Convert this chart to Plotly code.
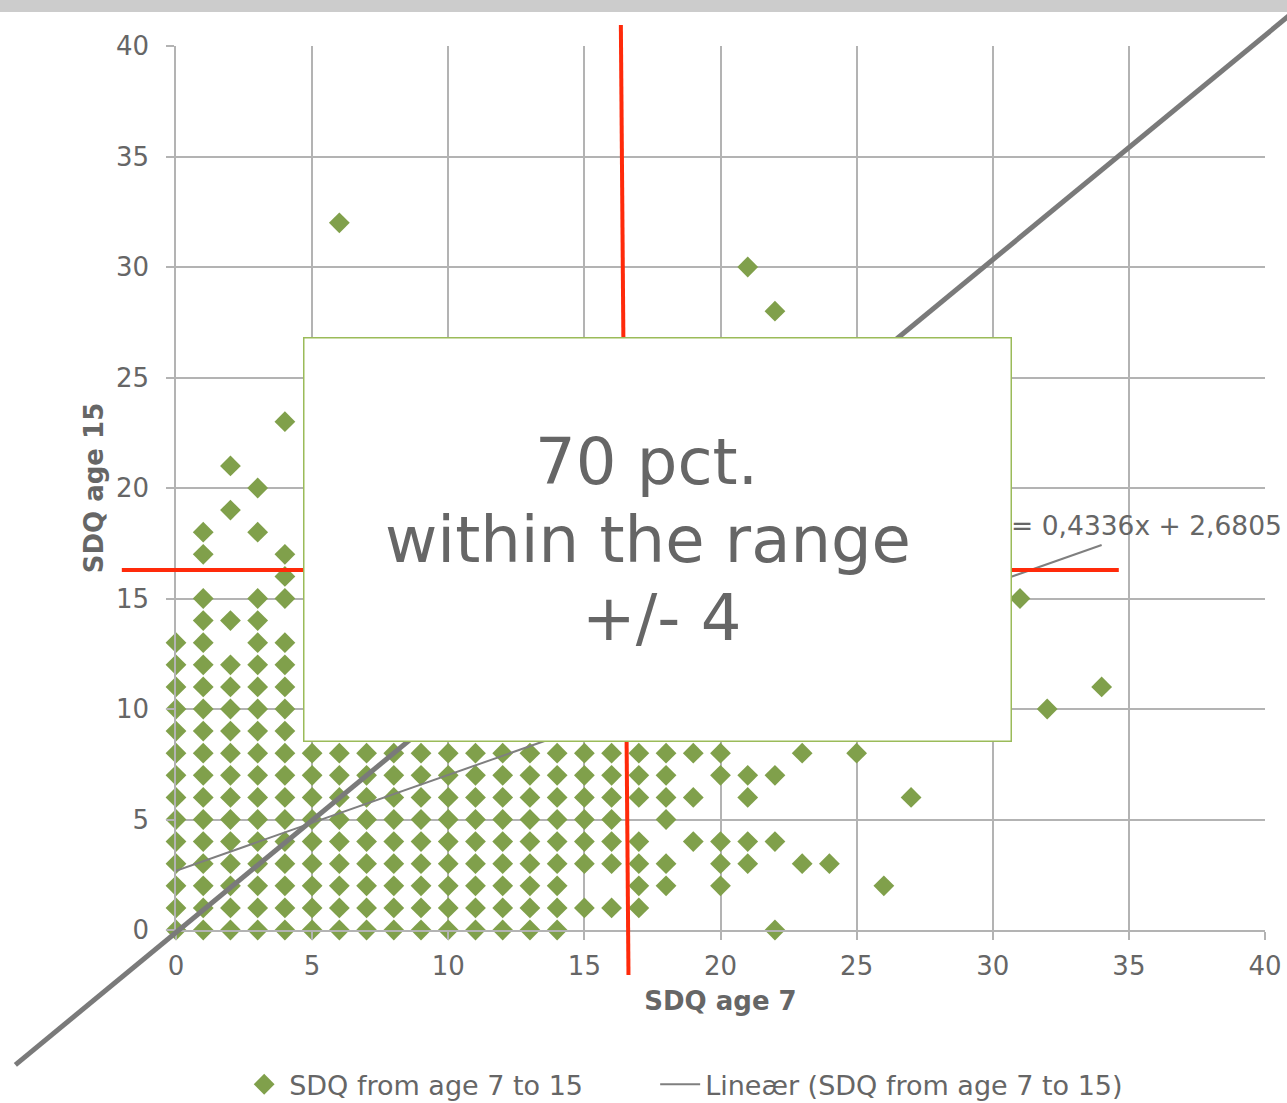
import plotly.graph_objects as go

# ---- data ----
age7_values = [0, 1, 2, 3, 4, 5, 6, 7, 8, 9, 10, 11, 12, 13, 14, 15, 16, 17, 18, 19,
               20, 21, 22, 23, 24, 25, 26, 27, 31, 32, 34]
age15_values = [
    [0, 1, 2, 3, 4, 5, 6, 7, 8, 9, 10, 11, 12, 13],
    [0, 1, 2, 3, 4, 5, 6, 7, 8, 9, 10, 11, 12, 13, 14, 15, 17, 18],
    [0, 1, 2, 3, 4, 5, 6, 7, 8, 9, 10, 11, 12, 14, 19, 21],
    [0, 1, 2, 3, 4, 5, 6, 7, 8, 9, 10, 11, 12, 13, 14, 15, 18, 20],
    [0, 1, 2, 3, 4, 5, 6, 7, 8, 9, 10, 11, 12, 13, 15, 16, 17, 23],
    [0, 1, 2, 3, 4, 5, 6, 7, 8],
    [0, 1, 2, 3, 4, 5, 6, 7, 8, 32],
    [0, 1, 2, 3, 4, 5, 6, 7, 8],
    [0, 1, 2, 3, 4, 5, 6, 7, 8],
    [0, 1, 2, 3, 4, 5, 6, 7, 8],
    [0, 1, 2, 3, 4, 5, 6, 7, 8],
    [0, 1, 2, 3, 4, 5, 6, 7, 8],
    [0, 1, 2, 3, 4, 5, 6, 7, 8],
    [0, 1, 2, 3, 4, 5, 6, 7, 8],
    [0, 1, 2, 3, 4, 5, 6, 7, 8],
    [1, 3, 4, 5, 6, 7, 8],
    [1, 3, 4, 5, 6, 7, 8],
    [1, 2, 3, 4, 6, 7, 8],
    [2, 3, 5, 6, 7, 8],
    [4, 6, 8],
    [2, 3, 4, 7, 8],
    [3, 4, 6, 7, 30],
    [0, 4, 7, 28],
    [3, 8],
    [3],
    [8],
    [2],
    [6],
    [15],
    [10],
    [11],
]
trend_slope = 0.4336
trend_intercept = 2.6805
trend_x = [0, 34]
trend_label = "y = 0,4336x + 2,6805"
box_lines = ["70 pct.", "within the range", "+/- 4"]

# reference lines drawn on the chart (data units)
red_vertical = [(16.34, 40.95), (16.62, -2.04)]
red_horizontal = [(-1.99, 16.29), (34.63, 16.29)]
diagonal = [(-5.9, -6.1), (41.6, 42.1)]

X_RANGE = [0, 40]
Y_RANGE = [0, 40]

xs, ys = [], []
for a7, col in zip(age7_values, age15_values):
    for a15 in col:
        xs.append(a7)
        ys.append(a15)

trend_y = [trend_slope * v + trend_intercept for v in trend_x]


def px(x):
    return (x - X_RANGE[0]) / (X_RANGE[1] - X_RANGE[0])


def py(y):
    return (y - Y_RANGE[0]) / (Y_RANGE[1] - Y_RANGE[0])


FONT = "DejaVu Sans"
GRID = "#b3b3b3"
TXT = "#666666"

fig = go.Figure()
fig.add_trace(go.Scatter(
    x=xs, y=ys, mode="markers", name="SDQ from age 7 to 15",
    marker=dict(symbol="diamond", size=16, color="#80a04b", line=dict(width=0)),
    cliponaxis=False, legend="legend", showlegend=True,
))
fig.add_trace(go.Scatter(
    x=trend_x, y=trend_y, mode="lines", name="Lineær (SDQ from age 7 to 15)",
    line=dict(color="#7f7f7f", width=2), cliponaxis=False, legend="legend2",
    showlegend=True,
))

shapes = []
# top gray band
shapes.append(dict(type="rect", xref="paper", yref="paper",
                   x0=-0.17, x1=1.03, y0=1.0385, y1=1.06,
                   fillcolor="#cccccc", line=dict(width=0), layer="above"))
for (p0, p1), col, w in [(red_vertical, "#ff2a0a", 4), (red_horizontal, "#ff2a0a", 4),
                         (diagonal, "#7a7a7a", 5)]:
    shapes.append(dict(type="line", xref="paper", yref="paper",
                       x0=px(p0[0]), y0=py(p0[1]), x1=px(p1[0]), y1=py(p1[1]),
                       line=dict(color=col, width=w), layer="above"))

annotations = [
    dict(text=trend_label, xref="paper", yref="paper", x=1.0174, y=0.458,
         xanchor="right", yanchor="middle", showarrow=False,
         font=dict(family=FONT, size=26.5, color=TXT)),
    dict(text=" ", xref="paper", yref="paper", x=0.4426, y=0.4412,
         xanchor="center", yanchor="middle", showarrow=False,
         width=706, height=402, borderpad=0, borderwidth=1.5,
         bordercolor="#9bbb59", bgcolor="#ffffff",
         font=dict(family=FONT, size=10, color=TXT)),
]
for line, lx, ly in zip(box_lines, [0.4325, 0.4334, 0.4454], [0.5294, 0.4412, 0.3529]):
    annotations.append(dict(text=line, xref="paper", yref="paper", x=lx, y=ly,
                            xanchor="center", yanchor="middle", showarrow=False,
                            font=dict(family=FONT, size=64, color=TXT)))

axis_common = dict(
    dtick=5, showgrid=True, gridcolor=GRID, gridwidth=1.5,
    showline=True, linecolor=GRID, linewidth=1.5, zeroline=False,
    ticks="outside", ticklen=8, tickcolor=GRID, tickwidth=1.5,
    tickfont=dict(family=FONT, size=26, color=TXT), automargin=False,
)

legend_common = dict(orientation="h", xanchor="left", y=-0.175, yanchor="middle",
                     font=dict(family=FONT, size=27, color=TXT), itemwidth=40,
                     bgcolor="rgba(0,0,0,0)", visible=True)

fig.update_layout(
    width=1287, height=1103,
    showlegend=True,
    margin=dict(l=176, r=22, t=46, b=173, autoexpand=False),
    paper_bgcolor="white", plot_bgcolor="white",
    font=dict(family=FONT, color=TXT),
    xaxis=dict(axis_common, range=X_RANGE, ticklabelstandoff=4,
               title=dict(text="<b>SDQ age 7</b>", standoff=12,
                          font=dict(family=FONT, size=26, color=TXT))),
    yaxis=dict(axis_common, range=Y_RANGE, ticklabelstandoff=12,
               title=dict(text="<b>SDQ age 15</b>", standoff=5,
                          font=dict(family=FONT, size=26, color=TXT))),
    legend=dict(legend_common, x=0.058),
    legend2=dict(legend_common, x=0.440),
    shapes=shapes,
    annotations=annotations,
)

fig.write_html("out.html", config={"displayModeBar": False},
               post_script="document.body.style.margin='0px';")
